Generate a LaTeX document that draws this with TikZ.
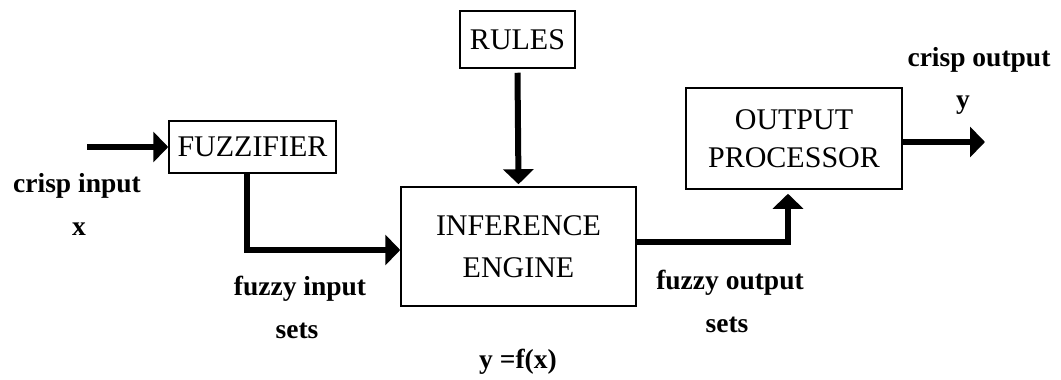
\documentclass[tikz,border=0pt]{standalone}
\usepackage{fontspec}
\setmainfont{Liberation Serif}
\usetikzlibrary{arrows.meta}
\begin{document}
\begin{tikzpicture}[x=1pt,y=-1pt,
  box/.style={draw,line width=1.5pt,inner sep=0pt,align=center,font=\fontsize{30}{42}\selectfont},
  lbl/.style={font=\bfseries\fontsize{27.5}{30}\selectfont,anchor=base,inner sep=0pt},
  conn/.style={line width=6pt,-{Triangle[length=15pt,width=30pt]}}]
\useasboundingbox (0,0) rectangle (1061,380);
% boxes
\node[box,minimum width=167pt,minimum height=52pt] (fuzz) at (252.5,147) {FUZZIFIER};
\node[box,minimum width=115pt,minimum height=57pt] (rules) at (517.5,39.5) {RULES};
\node[box,minimum width=235pt,minimum height=119pt] (inf) at (518.5,246.5) {INFERENCE\\ENGINE};
\node[box,minimum width=216pt,minimum height=101pt,font=\fontsize{30}{38}\selectfont] (out) at (794,138.5) {OUTPUT\\PROCESSOR};
% free ends
\coordinate (xin) at (87,147);
\coordinate (yend) at (985,142);
% connectors
\draw[conn] (xin) -- (fuzz.west);
\draw[conn] ([xshift=-5.5pt]fuzz.south) |- ([yshift=-3.5pt]inf.west);
\draw[conn] ([yshift=-4pt]rules.south) -- ([yshift=2pt]inf.north);
\draw[conn] ([yshift=4.5pt]inf.east) -| ([xshift=-6pt,yshift=-4pt]out.south);
\draw[conn] ([yshift=-3.5pt]out.east) -- (yend);
% labels
\node[lbl] (ci) at (77,192) {crisp input};
\node[lbl] (cx) at (79,235) {x};
\node[lbl] (fi) at (300,295) {fuzzy input};
\node[lbl] (fis) at (297,338) {sets};
\node[lbl] (fo) at (730,289) {fuzzy output};
\node[lbl] (fos) at (727,332) {sets};
\node[lbl] (co) at (979,66) {crisp output};
\node[lbl] (cy) at (963,108) {y};
\node[lbl] (fx) at (518,368) {y =f(x)};
\end{tikzpicture}
\end{document}
